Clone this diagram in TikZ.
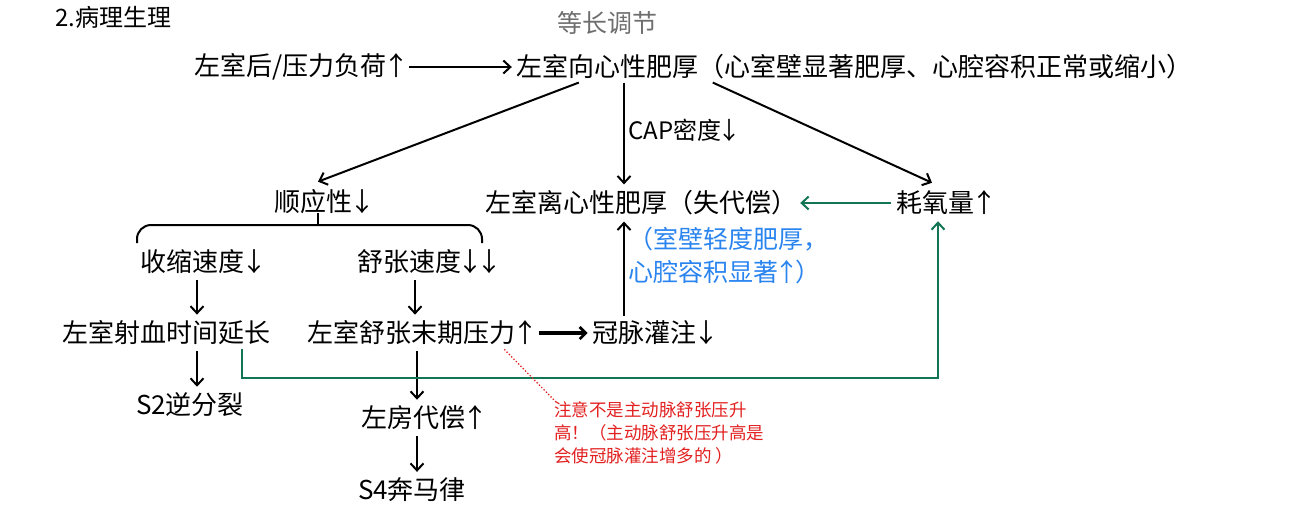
\documentclass[tikz,border=0pt]{standalone}
\usepackage{fontspec}
\setmainfont{Noto Sans CJK SC}
\usetikzlibrary{arrows.meta,calc}
\definecolor{gline}{RGB}{18,118,84}
\definecolor{bluetxt}{RGB}{42,132,240}
\definecolor{redtxt}{RGB}{226,32,32}
\definecolor{graytxt}{RGB}{110,110,110}
% narrow up/down arrows for the running text
\newcommand\UpA{\makebox[0.7em]{↑}}
\newcommand\DnA{\makebox[0.7em]{↓}}
\begin{document}
\begin{tikzpicture}[x=1pt,y=-1pt,
  lbl/.style={inner sep=0pt, font=\fontsize{26}{30}\selectfont},
  arr/.style={line width=2pt, -{Straight Barb[length=7pt,width=13pt,line width=2pt]}},
  garr/.style={gline, line width=2pt, -{Straight Barb[length=7pt,width=13pt,line width=2pt]}},
  thickarr/.style={line width=3.2pt, -{Straight Barb[length=6pt,width=12pt,line width=2.8pt]}}]
\useasboundingbox (0,0) rectangle (1298,515);

% headings
\node[inner sep=0pt, anchor=west, font=\fontsize{24}{28}\selectfont] (title) at (55,17) {2.病理生理};
\node[inner sep=0pt, text=graytxt, font=\fontsize{25}{28}\selectfont] (mode) at (607,23) {等长调节};

% nodes
\node[lbl] (load) at (300,67) {左室后/压力负荷\UpA};
\node[lbl] (conc) at (854,67) {左室向心性肥厚（心室壁显著肥厚、心腔容积正常或缩小）};
\node[lbl] (shun) at (323,202) {顺应性\DnA};
\node[lbl] (ecc)  at (641,203) {左室离心性肥厚（失代偿）};
\node[lbl] (oxy)  at (945,203) {耗氧量\UpA};
\node[lbl] (shou) at (202,262) {收缩速度\DnA};
\node[lbl] (shu)  at (428,262) {舒张速度\DnA\DnA};
\node[lbl] (eje)  at (166,333) {左室射血时间延长};
\node[lbl] (edp)  at (421,333) {左室舒张末期压力\UpA};
\node[lbl] (cor)  at (654,333) {冠脉灌注\DnA};
\node[lbl] (s2)   at (190,405) {S2逆分裂};
\node[lbl] (la)   at (423,418) {左房代偿\UpA};
\node[lbl] (s4)   at (412,490) {S4奔马律};

\node[inner sep=0pt, anchor=west, font=\fontsize{24}{28}\selectfont] (cap) at (628,130) {CAP密度\DnA};
\node[inner sep=0pt, anchor=north west, align=left, text=bluetxt,
      font=\fontsize{25}{33}\selectfont] (blue) at (628,227) {（室壁轻度肥厚，\\心腔容积显著\UpA）};
\node[inner sep=0pt, anchor=north west, align=left, text=redtxt,
      font=\fontsize{17.5}{23}\selectfont] (note) at (554,401)
      {注意不是主动脉舒张压升\\高！（主动脉舒张压升高是\\会使冠脉灌注增多的 ）};

% column helpers
\coordinate (cv) at (624,0);
\coordinate (c1) at (197,0);
\coordinate (c2) at (415,0);
\coordinate (c3) at (417,0);
\coordinate (gL) at (242,378);
\coordinate (gR) at (938,378);

% connectors
\draw[arr] ([xshift=4pt]load.east) -- ([xshift=-4pt]conc.west);
\draw[arr] ($(conc.south west)+(63,3)$) -- ($(shun.north)+(-5,-8)$);
\draw[arr] (conc.south -| cv) ++(0,3) -- ($(ecc.north -| cv)+(0,-6)$);
\draw[arr] ($(conc.south west)+(197,3)$) -- ($(oxy.north)+(-13,-8)$);
\draw[garr] ([xshift=-6pt]oxy.west) -- ([xshift=3pt]ecc.east);

% brace under compliance
\draw[line width=2pt, rounded corners=14pt] (137,243) |- (482,225) -- (482,243);
\draw[line width=2pt] (shun.south -| 318,0) ++(0,-1) -- (318,225);

\draw[arr] ($(shou.south -| c1)+(0,6)$) -- ($(eje.north -| c1)+(0,-6)$);
\draw[arr] ($(shu.south -| c2)+(0,6)$) -- ($(edp.north -| c2)+(0,-6)$);
\draw[thickarr] ([xshift=5pt]edp.east) -- ([xshift=-5pt]cor.west);
\draw[arr] ($(cor.north -| cv)+(0,-5)$) -- ($(ecc.south -| cv)+(0,6)$);

\draw[arr] ($(eje.south -| c1)+(0,6)$) -- ($(s2.north -| c1)+(0,-6)$);
\draw[arr] ($(edp.south -| c3)+(0,6)$) -- ($(la.north -| c3)+(0,-6)$);
\draw[arr] ($(la.south -| c3)+(0,6)$) -- ($(s4.north -| c3)+(0,-6)$);

% green feedback line
\draw[garr] (eje.south -| gL) ++(0,4) -- (gL) -- (gR) -- ($(oxy.south -| gR)+(0,6)$);

% red annotation leader
\draw[redtxt, line width=1.3pt, dotted] ($(edp.south east)+(-30,4)$) -- ($(note.north west)+(3,2)$);
\end{tikzpicture}
\end{document}
